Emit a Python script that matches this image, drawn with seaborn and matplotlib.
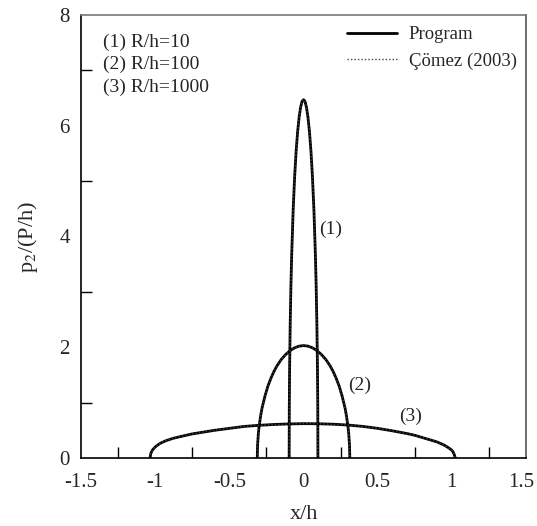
import numpy as np
import matplotlib
matplotlib.use("Agg")
import matplotlib.pyplot as plt
import matplotlib.transforms as mtransforms
from matplotlib.ticker import MultipleLocator
import seaborn as sns

# # # # # data # # # # #

# (1) R/h=10
x_rh10 = [-0.097, -0.096, -0.094, -0.09, -0.085, -0.08, -0.07, -0.06, -0.05, -0.04, -0.03, -0.02, -0.01, 0.0,
          0.01, 0.02, 0.03, 0.04, 0.05, 0.06, 0.07, 0.08, 0.085, 0.09, 0.094, 0.096, 0.097]
p_rh10 = [0.0, 0.93, 1.60, 2.41, 3.12, 3.66, 4.48, 5.08, 5.54, 5.89, 6.15, 6.33, 6.44, 6.47,
          6.44, 6.33, 6.15, 5.89, 5.54, 5.08, 4.48, 3.66, 3.12, 2.41, 1.60, 0.93, 0.0]

# (2) R/h=100
x_rh100 = [-0.312, -0.31, -0.305, -0.30, -0.29, -0.28, -0.26, -0.24, -0.22, -0.20, -0.18, -0.15, -0.12, -0.09, -0.06, -0.03, 0.0,
           0.03, 0.06, 0.09, 0.12, 0.15, 0.18, 0.20, 0.22, 0.24, 0.26, 0.28, 0.29, 0.30, 0.305, 0.31, 0.312]
p_rh100 = [0.0, 0.23, 0.43, 0.56, 0.75, 0.90, 1.12, 1.30, 1.44, 1.56, 1.66, 1.78, 1.87, 1.94, 1.99, 2.02, 2.03,
           2.02, 1.99, 1.94, 1.87, 1.78, 1.66, 1.56, 1.44, 1.30, 1.12, 0.90, 0.75, 0.56, 0.43, 0.23, 0.0]

# (3) R/h=1000
x_rh1000 = [-1.035, -1.03, -1.02, -1.0, -0.97, -0.93, -0.88, -0.8, -0.75, -0.6, -0.5, -0.4, -0.3, -0.2, -0.1, 0.0,
            0.1, 0.2, 0.3, 0.4, 0.5, 0.6, 0.7, 0.75, 0.8, 0.9, 0.95, 0.98, 1.0, 1.01, 1.015, 1.02, 1.023]
p_rh1000 = [0.0, 0.08, 0.14, 0.20, 0.26, 0.31, 0.355, 0.405, 0.435, 0.50, 0.535, 0.57, 0.59, 0.605, 0.615, 0.62,
            0.618, 0.61, 0.595, 0.57, 0.535, 0.49, 0.44, 0.41, 0.37, 0.29, 0.23, 0.18, 0.14, 0.10, 0.07, 0.03, 0.0]

CURVES = [(x_rh10, p_rh10), (x_rh100, p_rh100), (x_rh1000, p_rh1000)]
CASE_LABELS = ["(1) R/h=10", "(2) R/h=100", "(3) R/h=1000"]
SERIES_LABELS = ["Program", "Çömez (2003)"]
X_TICKS = [-1.5, -1, -0.5, 0, 0.5, 1, 1.5]
X_TICK_LABELS = ["-1.5", "-1", "-0.5", "0", "0.5", "1", "1.5"]

# # # # # plot # # # # #

sns.set_theme(style="white")
plt.rcParams['font.family'] = ['Liberation Serif', 'DejaVu Serif']
plt.rcParams['mathtext.fontset'] = 'stix'
plt.rcParams['axes.unicode_minus'] = False

fig = plt.figure(figsize=(5.37, 5.26), dpi=100)
ax = fig.add_axes([0.151, 0.1293, 0.8285, 0.8422])

for i, (xs, ps) in enumerate(CURVES):
	sns.lineplot(x=xs, y=ps, sort=False, estimator=None, color='black', linewidth=2.0,
		solid_capstyle='round', label=SERIES_LABELS[0] if i == 0 else None, ax=ax)
	sns.lineplot(x=xs, y=ps, sort=False, estimator=None, color='#444444', linewidth=1.0,
		linestyle=(0, (1, 1.5)), label=SERIES_LABELS[1] if i == 0 else None, ax=ax)

# axes limits and ticks
ax.set_xlim(-1.5, 1.5)
ax.set_ylim(0, 8)
ax.xaxis.set_minor_locator(MultipleLocator(0.25))
ax.yaxis.set_major_locator(MultipleLocator(2))
ax.yaxis.set_minor_locator(MultipleLocator(1))
ax.set_xticks(X_TICKS)
ax.set_xticklabels(X_TICK_LABELS)
ax.tick_params(which='major', direction='in', length=16, width=1, color='black',
	labelsize=15, top=False, right=False)
ax.tick_params(which='minor', direction='in', length=8, width=1, color='black',
	top=False, right=False, bottom=True, left=True)
ax.tick_params(axis='x', which='major', pad=11)
ax.tick_params(axis='y', which='major', pad=8)

# nudge the last x tick label so it stays inside the figure
last_lab = ax.get_xticklabels()[-1]
last_lab.set_transform(last_lab.get_transform() +
	mtransforms.ScaledTranslation(-5 / 100, 0, fig.dpi_scale_trans))

for side in ['left', 'bottom']:
	ax.spines[side].set_color('black')
	ax.spines[side].set_linewidth(1.2)
ax.spines['top'].set_color('#777777')
ax.spines['right'].set_color('#555555')
ax.spines['top'].set_linewidth(1.2)
ax.spines['right'].set_linewidth(1.2)

ax.set_xlabel("x/h", fontsize=16, labelpad=9)
ax.set_ylabel("p$_2$/(P/h)", fontsize=16, labelpad=14)

# case labels in upper left
for j, txt in enumerate(CASE_LABELS):
	ax.text(0.049, 0.939 - 0.051 * j, txt, transform=ax.transAxes, fontsize=14,
		va='center', ha='left')

# curve annotations
ax.text(0.18, 4.13, "(1)", fontsize=14, ha='center', va='center')
ax.text(0.375, 1.32, "(2)", fontsize=14, ha='center', va='center')
ax.text(0.72, 0.75, "(3)", fontsize=14, ha='center', va='center')

ax.legend(loc='upper left', bbox_to_anchor=(0.597, 0.975), frameon=False, fontsize=13.5,
	handlelength=2.7, handletextpad=0.6, labelspacing=0.5, borderpad=0, borderaxespad=0)

fig.savefig("out.png", dpi=100)
